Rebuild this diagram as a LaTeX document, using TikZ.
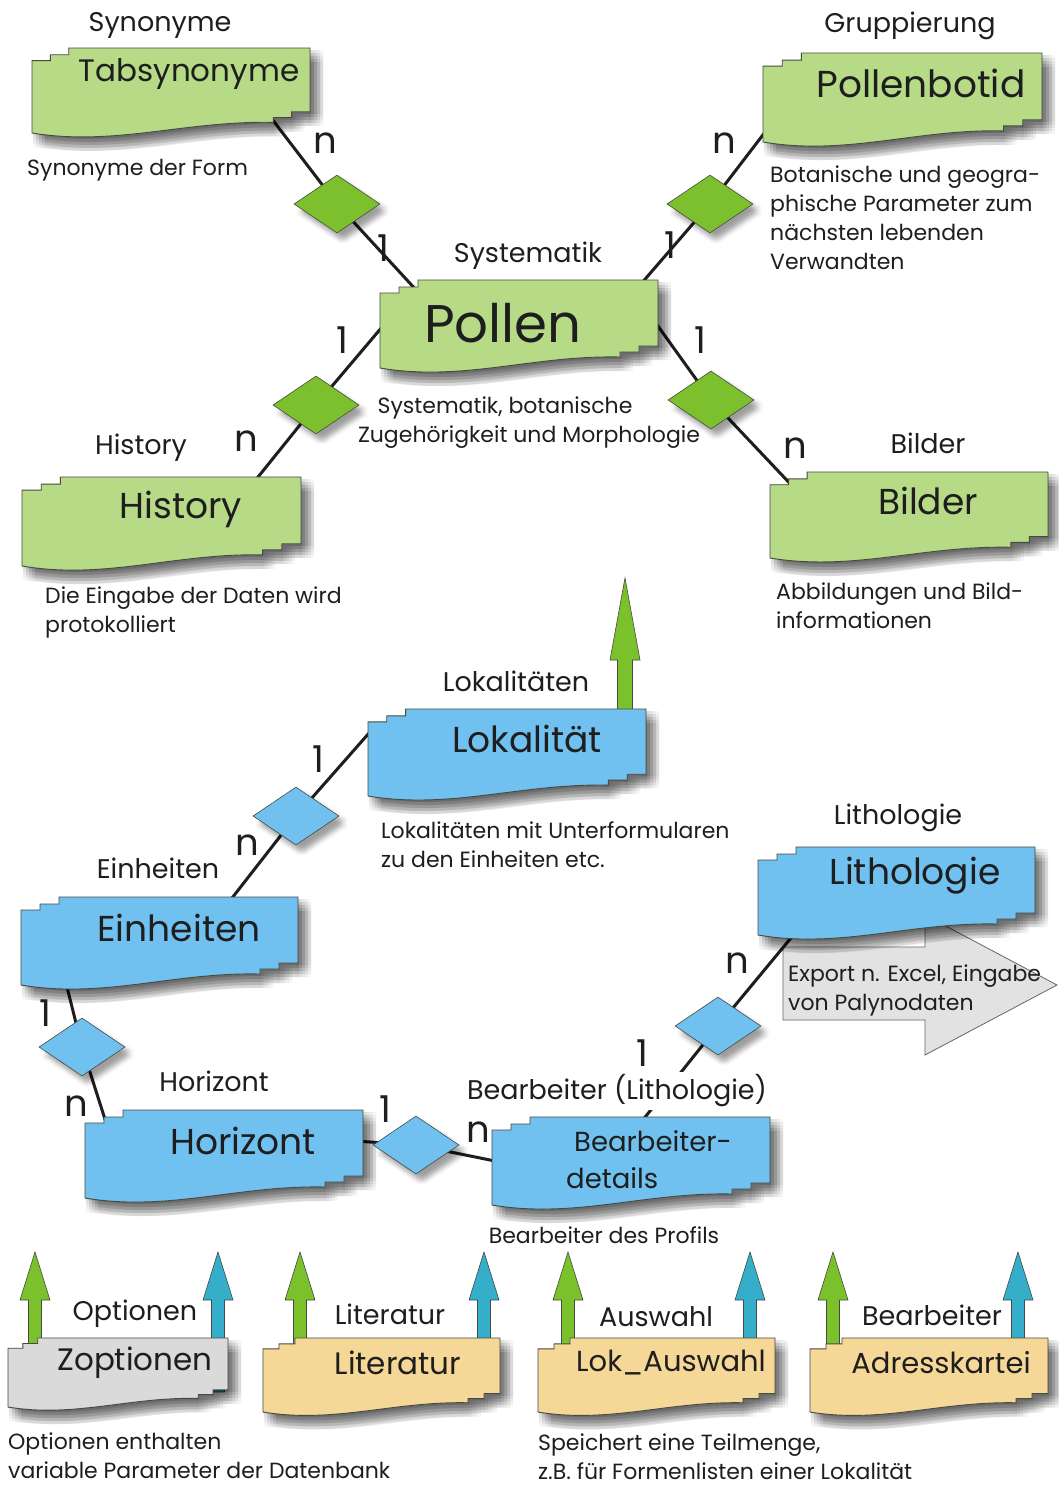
\documentclass[tikz,border=0pt]{standalone}
\usepackage{fontspec}
\setmainfont{Poppins}
\usetikzlibrary{shapes.geometric}

\pgfdeclarelayer{back}
\pgfdeclarelayer{paper}
\pgfsetlayers{paper,back,main}

\definecolor{boxgreen}{RGB}{182,218,134}
\definecolor{relgreen}{RGB}{125,192,46}
\definecolor{arrgreen}{RGB}{123,193,43}
\definecolor{boxblue}{RGB}{112,193,239}
\definecolor{arrteal}{RGB}{53,174,201}
\definecolor{boxtan}{RGB}{245,216,151}
\definecolor{boxgray}{RGB}{218,218,218}
\definecolor{expgray}{RGB}{226,226,226}
\definecolor{edge}{RGB}{70,74,66}
\definecolor{ink}{RGB}{30,30,30}

\tikzset{
  conn/.style={draw=ink, line width=3pt},
  softshade/.style={fill=black, fill opacity=#1},
  softshade/.default=0.03,
  boxline/.style={draw=edge, line width=0.9pt},
  rel/.style={diamond, aspect=1.48, minimum width=86pt, minimum height=58pt, inner sep=0pt,
              draw=edge, line width=0.6pt},
  card/.style={font=\fontsize{37}{40}\selectfont, text=ink, inner sep=0pt},
  ttl/.style={font=\fontsize{27}{30}\selectfont, text=ink, inner sep=0pt},
  desc/.style={font=\fontsize{22}{29}\selectfont, text=ink, align=left, inner sep=0pt, anchor=west},
  ename/.style={font=\fontsize{36}{40}\selectfont, text=ink, inner sep=0pt},
  frame/.style={inner sep=0pt, outer sep=0pt},
}

% outline of a table: stepped top-left corner, stepped bottom-right corner, wavy bottom
% #1 left, #2 top, #3 right, #4 bottom (at the left edge); \hs = step scale
\newcommand\boxpath[4]{%
   ({#1+38*\hs},#2) -- (#3,#2) -- (#3,{#4-22*\hs}) -- ({#3-19*\hs},{#4-22*\hs})
   -- ({#3-19*\hs},{#4-16*\hs}) -- ({#3-38*\hs},{#4-16*\hs}) -- ({#3-38*\hs},{#4-11*\hs})
   .. controls ({#1+0.55*(#3-#1)},{#4-13*\hs}) and ({#1+0.3*(#3-#1)},{#4+14*\hs}) .. (#1,#4)
   -- (#1,{#2+13*\hs}) -- ({#1+19*\hs},{#2+13*\hs}) -- ({#1+19*\hs},{#2+7*\hs})
   -- ({#1+38*\hs},{#2+7*\hs}) -- cycle}

% table with a soft drop shadow: #1 name, #2 fill, #3 left, #4 top, #5 right, #6 bottom
\newcommand\erbox[6]{%
  \pgfmathsetmacro\hs{(#6-#4)/88}%
  \foreach \dx in {1,4,7,10,13}{\foreach \dy in {2,5,8,11,14}{%
    \path[softshade, shift={(\dx,\dy)}] \boxpath{#3}{#4}{#5}{#6};}}
  \path[fill=#2, boxline] \boxpath{#3}{#4}{#5}{#6};
  \node[frame, minimum width={(#5-#3)*1pt}, minimum height={(#6-#4)*1pt}] (#1)
    at ({(#3+#5)/2},{(#4+#6)/2}) {};
}

% relationship diamond with a soft shadow: #1 name, #2 x, #3 y, #4 fill
\newcommand\reldia[4]{%
  \foreach \dx in {2,4.5,7,9.5}{\foreach \dy in {3,5.5,8,10.5}{%
    \path[softshade=0.028, shift={(\dx,\dy)}] (#2,{#3-29}) -- ({#2+43},#3) -- (#2,{#3+29}) -- ({#2-43},#3) -- cycle;}}
  \node[rel, fill=#4] (#1) at (#2,#3) {};
}

% upward block arrow: #1 x, #2 tip, #3 base, #4 head length, #5 head half width, #6 shaft half width, #7 fill
\newcommand\blockarrow[7]{%
  \path[fill=#7, draw=edge, line width=0.6pt]
   ({#1-#6},#3) -- ({#1-#6},{#2+#4}) -- ({#1-#5},{#2+#4}) -- (#1,#2)
   -- ({#1+#5},{#2+#4}) -- ({#1+#6},{#2+#4}) -- ({#1+#6},#3) -- cycle;
}

\begin{document}
\begin{tikzpicture}[x=1pt,y=-1pt]
\begin{pgfonlayer}{paper}
  \fill[white] (0,0) rectangle (1059,1486);
\end{pgfonlayer}
\useasboundingbox (0,0) rectangle (1059,1486);

% ---------- arrows standing on the tables ----------
\blockarrow{625}{578}{715}{82}{15}{7.5}{arrgreen}
\blockarrow{35}{1252}{1345}{48}{15}{6.5}{arrgreen}
\blockarrow{218}{1252}{1392}{48}{15}{6.5}{arrteal}
\blockarrow{300}{1252}{1345}{48}{15}{6.5}{arrgreen}
\blockarrow{484}{1252}{1345}{48}{15}{6.5}{arrteal}
\blockarrow{568}{1252}{1345}{48}{15}{6.5}{arrgreen}
\blockarrow{750}{1252}{1345}{48}{15}{6.5}{arrteal}
\blockarrow{833}{1252}{1345}{48}{15}{6.5}{arrgreen}
\blockarrow{1018}{1252}{1345}{48}{15}{6.5}{arrteal}

% ---------- tables ----------
\erbox{tabsyn}{boxgreen}{32}{48}{310}{133}
\erbox{botid}{boxgreen}{763}{53}{1042}{142}
\erbox{pollen}{boxgreen}{380}{280}{658}{368}
\erbox{history}{boxgreen}{22}{477}{301}{566}
\erbox{bilder}{boxgreen}{770}{472}{1048}{558}
\erbox{lokal}{boxblue}{368}{709}{646}{796}
\erbox{einh}{boxblue}{21}{897}{298}{985}
\erbox{litho}{boxblue}{758}{847}{1035}{935}
\erbox{horiz}{boxblue}{85}{1110}{363}{1198}
\erbox{bearb}{boxblue}{492}{1117}{770}{1205}
\erbox{zopt}{boxgray}{8}{1338}{228}{1407}
\erbox{lit}{boxtan}{263}{1338}{500}{1412}
\erbox{lokaus}{boxtan}{538}{1338}{775}{1412}
\erbox{adress}{boxtan}{810}{1338}{1048}{1412}

% ---------- relationships ----------
\reldia{d1}{337}{204}{relgreen}
\reldia{d2}{710}{204}{relgreen}
\reldia{d3}{316}{405}{relgreen}
\reldia{d4}{711}{400}{relgreen}
\reldia{d5}{296}{816}{boxblue}
\reldia{d6}{82}{1047}{boxblue}
\reldia{d7}{416}{1145}{boxblue}
\reldia{d8}{718}{1026}{boxblue}

% attachment points of the connectors
\coordinate (a1) at (262,106);  \coordinate (b1) at (418,292);
\coordinate (a2) at (772,123);  \coordinate (b2) at (634,292);
\coordinate (a3) at (388,320);  \coordinate (b3) at (250,487);
\coordinate (a4) at (650,315);  \coordinate (b4) at (798,492);
\coordinate (a5) at (377,724);  \coordinate (b5) at (225,907);
\coordinate (a6) at (64,975);   \coordinate (b6) at (110,1135);
\coordinate (a7) at (355,1141); \coordinate (b7) at (500,1162);
\coordinate (a8) at (638,1126); \coordinate (b8) at (800,927);

\begin{pgfonlayer}{back}
  % export arrow behind the Lithologie table
  \path[fill=expgray, draw=gray!80!black, line width=0.8pt] (783,947) -- (925,947) -- (925,915)
     -- (1057,985) -- (925,1055) -- (925,1020) -- (783,1020) -- cycle;
  \node[frame] (exparrow) at (920,985) {};
  \draw[conn] (a1) -- (d1.center) -- (b1);
  \draw[conn] (a2) -- (d2.center) -- (b2);
  \draw[conn] (a3) -- (d3.center) -- (b3);
  \draw[conn] (a4) -- (d4.center) -- (b4);
  \draw[conn] (a5) -- (d5.center) -- (b5);
  \draw[conn] (a6) -- (d6.center) -- (b6);
  \draw[conn] (a7) -- (d7.center) -- (b7);
  \draw[conn] (a8) -- (d8.center) -- (b8);
\end{pgfonlayer}

% ---------- cardinalities ----------
\node[card] (k1n) at (325,143) {n};  \node[card] (k11) at (383,248) {1};
\node[card] (k2n) at (724,143) {n};  \node[card] (k21) at (670,245) {1};
\node[card] (k31) at (342,340) {1};  \node[card] (k3n) at (246,441) {n};
\node[card] (k41) at (700,340) {1};  \node[card] (k4n) at (795,448) {n};
\node[card] (k51) at (318,759) {1};  \node[card] (k5n) at (247,845) {n};
\node[card] (k61) at (45,1013) {1};  \node[card] (k6n) at (76,1106) {n};
\node[card] (k71) at (385,1109) {1}; \node[card] (k7n) at (478,1132) {n};
\node[card] (k81) at (642,1053) {1}; \node[card] (k8n) at (737,963) {n};

% ---------- table titles ----------
\node[ttl] (tSyn) at (160,25) {Synonyme};
\node[ttl] (tGrp) at (910,26) {Gruppierung};
\node[ttl] (tSys) at (528,256) {Systematik};
\node[ttl] (tHis) at (141,448) {History};
\node[ttl] (tBil) at (928,443) {Bilder};
\node[ttl] (tLok) at (516,681) {Lokalitäten};
\node[ttl] (tEin) at (158,868) {Einheiten};
\node[ttl] (tLit) at (898,818) {Lithologie};
\node[ttl] (tHor) at (214,1081) {Horizont};
\node[ttl, fill=white, inner sep=3pt] (tBea) at (617,1091) {Bearbeiter (Lithologie)};
\node[ttl] (tOpt) at (135,1314) {Optionen};
\node[ttl] (tLtr) at (390,1314) {Literatur};
\node[ttl] (tAus) at (656,1317) {Auswahl};
\node[ttl] (tAdr) at (932,1315) {Bearbeiter};

% ---------- names inside the tables ----------
\node[ename, font=\fontsize{31}{34}\selectfont] (nTab) at (189,74) {Tabsynonyme};
\node[ename, font=\fontsize{37.5}{42}\selectfont] (nBot) at (921,83) {Pollenbotid};
\node[ename, font=\fontsize{53}{58}\selectfont] (nPol) at (503,323) {Pollen};
\node[ename] (nHis) at (181,509) {History};
\node[ename] (nBil) at (928,501) {Bilder};
\node[ename] (nLok) at (527,739) {Lokalität};
\node[ename] (nEin) at (179,928) {Einheiten};
\node[ename] (nLit) at (915,876) {Lithologie};
\node[ename] (nHor) at (243,1141) {Horizont};
\node[ename, font=\fontsize{27.5}{37}\selectfont, align=left, anchor=west] (nBea) at (566,1160)
  {\hspace*{8pt}Bearbeiter-\\details};
\node[ename, font=\fontsize{31}{34}\selectfont] (nZop) at (135,1363) {Zoptionen};
\node[ename, font=\fontsize{31}{34}\selectfont] (nLtr) at (398,1363) {Literatur};
\node[ename, font=\fontsize{29}{34}\selectfont] (nLka) at (671,1363) {Lok\_Auswahl};
\node[ename, font=\fontsize{29}{34}\selectfont] (nAdr) at (941,1363) {Adresskartei};

% ---------- descriptions ----------
\node[desc] (xTab) at (27,170) {Synonyme der Form};
\node[desc] (xBot) at (770,218) {Botanische und geogra-\\phische Parameter zum\\nächsten lebenden\\Verwandten};
\node[desc, anchor=center] (xPol1) at (505,408) {Systematik, botanische};
\node[desc, anchor=center] (xPol2) at (529,437) {Zugehörigkeit und Morphologie};
\node[desc] (xHis) at (45,612) {Die Eingabe der Daten wird\\protokolliert};
\node[desc] (xBil) at (776,606) {Abbildungen und Bild-\\informationen};
\node[desc] (xLok) at (381,845) {Lokalitäten mit Unterformularen\\zu den Einheiten etc.};
\node[desc] (xExp) at (788,990) {Export n. Excel, Eingabe\\von Palynodaten};
\node[desc, anchor=center] (xBea) at (604,1235) {Bearbeiter des Profils};
\node[desc] (xZop) at (8,1456) {Optionen enthalten\\variable Parameter der Datenbank};
\node[desc] (xLka) at (538,1457) {Speichert eine Teilmenge,\\z.B. für Formenlisten einer Lokalität};
\end{tikzpicture}
\end{document}
